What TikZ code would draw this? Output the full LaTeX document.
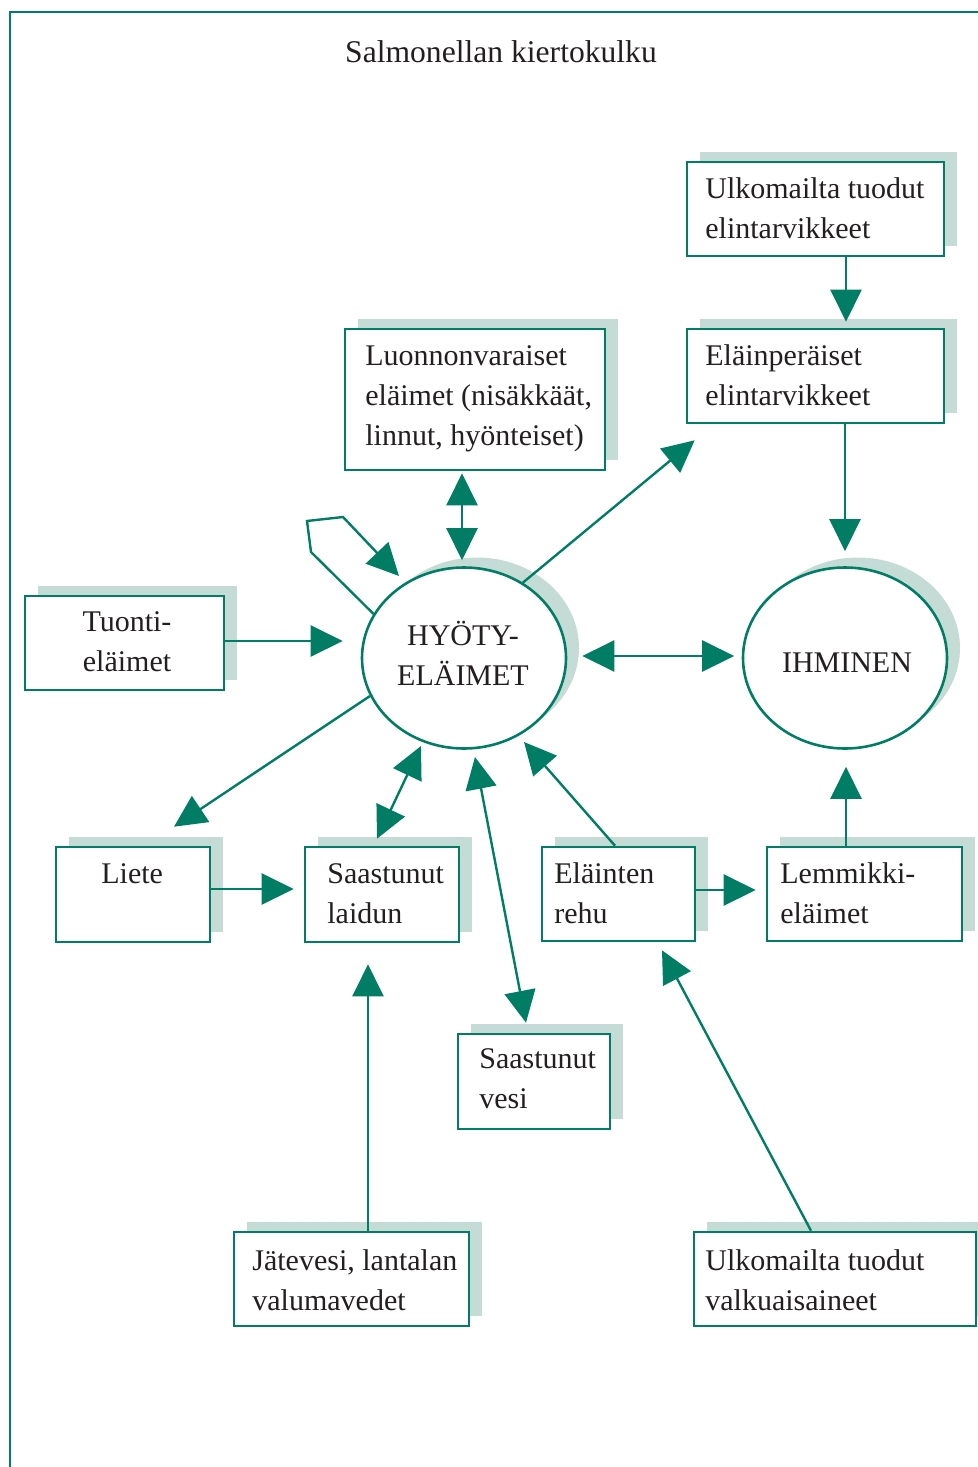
\documentclass[tikz,border=0pt]{standalone}
\usepackage{fontspec}
\setmainfont{Liberation Serif}
\usetikzlibrary{arrows.meta,calc,fit,shapes.geometric}
\definecolor{teal1}{RGB}{0,125,100}
\definecolor{shadecol}{RGB}{196,220,213}
\definecolor{ink}{RGB}{35,31,32}
\newcommand\shbox[5]{%
  \fill[shadecol] (#2+13,#3-10) rectangle (#4+13,#5-10);
  \node[boxstyle,fit={(#2,#3)(#4,#5)}] (#1) {};
}
\begin{document}
\begin{tikzpicture}[x=0.5pt,y=-0.5pt,
  boxstyle/.style={draw=teal1,line width=1.3pt,fill=white,inner sep=0pt},
  ellstyle/.style={ellipse,draw=teal1,line width=1.3pt,fill=white,inner sep=0pt,minimum width=102pt,minimum height=90.5pt},
  ellshade/.style={ellipse,fill=shadecol,inner sep=0pt,minimum width=102pt,minimum height=90.5pt},
  lbl/.style={inner sep=0pt,anchor=base west,align=left,text=ink,font=\fontsize{15pt}{20pt}\selectfont},
  link/.style={draw=teal1,line width=1.2pt,-{Triangle[length=16pt,width=15.5pt]}},
  dlink/.style={draw=teal1,line width=1.2pt,{Triangle[length=16pt,width=15.5pt]}-{Triangle[length=16pt,width=15.5pt]}},
  framestyle/.style={draw=teal1,line width=1.25pt}
]
\useasboundingbox (0,0) rectangle (978,1467);
\clip (0,0) rectangle (978,1467);

% frame
\draw[framestyle] (978,12) -- (10,12) -- (10,1467);

% title
\node[inner sep=0pt,anchor=base,text=ink,font=\fontsize{15.8pt}{19pt}\selectfont] (title) at (501,62) {Salmonellan kiertokulku};

% ellipses
\node[ellshade] (heshade) at (477,648) {};
\node[ellstyle] (he) at (464,658) {};
\node[ellshade] (ihshade) at (858,648) {};
\node[ellstyle] (ih) at (845,658) {};
% (anchor base = baseline of the last line)
\node[lbl,anchor=base,align=center] (het) at (463,685) {HYÖTY-\\ELÄIMET};
\node[lbl,anchor=base] (iht) at (847,672) {IHMINEN};

% boxes
\shbox{ut}{687}{162}{944}{256}
\shbox{ep}{687}{329}{944}{423}
\shbox{lv}{345}{329}{605}{470}
\shbox{te}{25}{596}{224}{690}
\shbox{liete}{56}{847}{210}{942}
\shbox{sl}{305}{847}{459}{942}
\shbox{er}{542}{847}{695}{941}
\shbox{lm}{767}{847}{962}{941}
\shbox{sv}{458}{1034}{610}{1129}
\shbox{jv}{234}{1232}{469}{1326}
\shbox{uv}{694}{1232}{976}{1326}

% labels
\node[lbl] (utt) at (705,238) {Ulkomailta tuodut\\elintarvikkeet};
\node[lbl] (ept) at (705,405) {Eläinperäiset\\elintarvikkeet};
\node[lbl] (lvt) at (365,445) {Luonnonvaraiset\\eläimet (nisäkkäät,\\linnut, hyönteiset)};
\node[lbl,anchor=base,align=center] (tet) at (127,671) {Tuonti-\\eläimet};
\node[lbl] (lietet) at (101,883) {Liete};
\node[lbl] (slt) at (327,923) {Saastunut\\laidun};
\node[lbl] (ert) at (554,923) {Eläinten\\rehu};
\node[lbl] (lmt) at (780,923) {Lemmikki-\\eläimet};
\node[lbl] (svt) at (479,1108) {Saastunut\\vesi};
\node[lbl] (jvt) at (252,1310) {Jätevesi, lantalan\\valumavedet};
\node[lbl] (uvt) at (705,1310) {Ulkomailta tuodut\\valkuaisaineet};

% connectors
\draw[link] ($(ut.south)+(30.5,0)$) -- ($(ep.north)+(30.5,-6)$);
\draw[link] ($(ep.south)+(29.5,0)$) -- ($(ih.north)+(0,-15)$);
\draw[dlink] ($(lv.south)+(-13,2)$) -- ($(he.north)+(-2,-6)$);
\draw[link] (he.52) -- ($(ep.south west)+(9,16)$);
\draw[link] (he.154) -- (311,552) -- (307,521) -- (343,517) -- ($(he.center)+(-65,-82)$);
\draw[link] ($(te.east)+(0,-2)$) -- ($(he.west)+(-18,-17)$);
\draw[dlink] ($(he.east)+(15,-2)$) -- ($(ih.west)+(-7.5,-2)$);
\draw[link] (he.202) -- ($(liete.north)+(41,-19)$);
\draw[dlink] ($(he.center)+(-43,88)$) -- ($(sl.north)+(-5,-7)$);
\draw[link] ($(liete.east)+(0,-5.5)$) -- ($(sl.west)+(-10,-5.5)$);
\draw[dlink] ($(he.center)+(11,99)$) -- ($(sv.north)+(-8,-10)$);
\draw[link] ($(er.north)+(-3.5,0)$) -- ($(he.center)+(60,84)$);
\draw[link] ($(er.east)+(0,-4)$) -- ($(lm.west)+(-10,-4)$);
\draw[link] ($(lm.north)+(-18.5,0)$) -- ($(ih.south)+(1,17)$);
\draw[link] ($(jv.north)+(16.5,0)$) -- ($(sl.south)+(-14,21)$);
\draw[link] ($(uv.north)+(-24,0)$) -- ($(er.south)+(43.5,8)$);
\end{tikzpicture}
\end{document}
